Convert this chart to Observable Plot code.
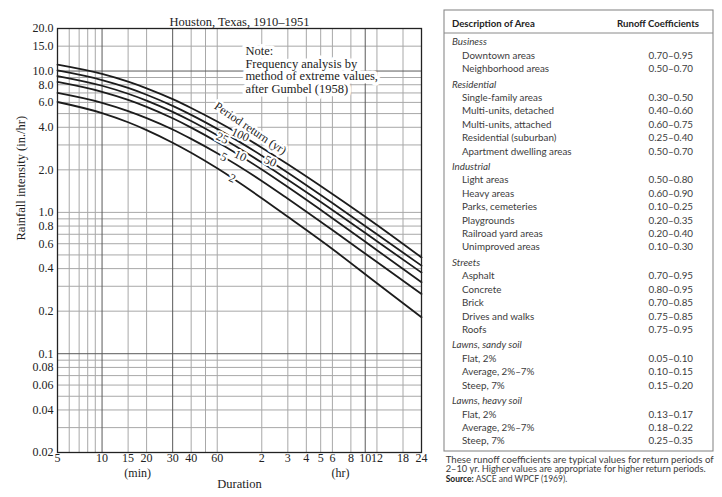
<!DOCTYPE html>
<html><head><meta charset="utf-8">
<script src="https://cdn.jsdelivr.net/npm/d3@7"></script>
<script src="https://cdn.jsdelivr.net/npm/@observablehq/plot@0.6"></script>
<style>
body{margin:0;background:#fff;}
#wrap{position:relative;width:722px;height:497px;overflow:hidden;background:#fff;}
#chart{position:absolute;left:0;top:0;}
#table{position:absolute;left:440px;top:0;}
</style></head><body><div id="wrap"><div id="chart"></div><svg id="table" width="282" height="497"></svg></div>
<script>
// ---- chart data ----
const durations = [5, 10, 15, 20, 30, 40, 60, 120, 180, 360, 720, 1440]; // minutes
const periods = ["2", "5", "10", "25", "50", "100"]; // return period, yr
const int2   = [6.04, 5.04, 4.34, 3.82, 3.11, 2.64, 2.05, 1.26, 0.93, 0.55, 0.315, 0.181];
const int5   = [7.0, 5.96, 5.21, 4.65, 3.86, 3.31, 2.62, 1.67, 1.25, 0.75, 0.445, 0.265];
const int10  = [8.37, 7.13, 6.25, 5.58, 4.63, 3.98, 3.15, 2.01, 1.51, 0.91, 0.54, 0.32];
const int25  = [9.22, 7.87, 6.91, 6.18, 5.14, 4.43, 3.51, 2.25, 1.70, 1.04, 0.625, 0.375];
const int50  = [10.1, 8.64, 7.60, 6.80, 5.67, 4.90, 3.90, 2.52, 1.91, 1.165, 0.70, 0.42];
const int100 = [11.1, 9.54, 8.41, 7.55, 6.33, 5.48, 4.39, 2.87, 2.19, 1.35, 0.815, 0.48];

const xTicks = [5, 10, 15, 20, 30, 40, 60, 120, 180, 240, 300, 360, 480, 600, 720, 1080, 1440];
const xTickLabels = ["5","10","15","20","30","40","60","2","3","4","5","6","8","10","12","18","24"];
const xGridLight = [6, 7, 8, 9, 15, 20, 40, 50, 60, 120, 180, 240, 300, 360, 480, 720, 1080];
const xGridDark = [10, 30, 600];
const yTicks = [20, 15, 10, 8, 6, 4, 2, 1, 0.8, 0.6, 0.4, 0.2, 0.1, 0.08, 0.06, 0.04, 0.02];
const yTickLabels = ["20.0","15.0","10.0","8.0","6.0","4.0","2.0","1.0","0.8","0.6","0.4","0.2","0.1","0.08","0.06","0.04","0.02"];
const yGridLight = [15, 9, 8, 7, 6, 5, 4, 3, 2, 1, 0.9, 0.8, 0.7, 0.6, 0.5, 0.4, 0.3, 0.2, 0.09, 0.08, 0.07, 0.06, 0.05, 0.04, 0.03];
const yGridDark = [10, 0.1];

const curveLabelText = ["100", "25", "5", "10", "50", "2"];
const curveLabelDur  = [86, 65, 66.5, 86, 137, 76];
const curveLabelInt  = [3.54, 3.35, 2.46, 2.51, 2.30, 1.745];

const titleText = "Houston, Texas, 1910–1951";
const noteText = "Note:\nFrequency analysis by\nmethod of extreme values,\nafter Gumbel (1958)";
const periodText = "Period return (yr)";
const yLabel = "Rainfall intensity (in./hr)";
const xLabel = "Duration";

// ---- table data ----
const rowText = ["Business","Downtown areas","Neighborhood areas",
  "Residential","Single-family areas","Multi-units, detached","Multi-units, attached","Residential (suburban)","Apartment dwelling areas",
  "Industrial","Light areas","Heavy areas","Parks, cemeteries","Playgrounds","Railroad yard areas","Unimproved areas",
  "Streets","Asphalt","Concrete","Brick","Drives and walks","Roofs",
  "Lawns, sandy soil","Flat, 2%","Average, 2%–7%","Steep, 7%",
  "Lawns, heavy soil","Flat, 2%","Average, 2%–7%","Steep, 7%"];
const rowValue = ["","0.70–0.95","0.50–0.70",
  "","0.30–0.50","0.40–0.60","0.60–0.75","0.25–0.40","0.50–0.70",
  "","0.50–0.80","0.60–0.90","0.10–0.25","0.20–0.35","0.20–0.40","0.10–0.30",
  "","0.70–0.95","0.80–0.95","0.70–0.85","0.75–0.85","0.75–0.95",
  "","0.05–0.10","0.10–0.15","0.15–0.20",
  "","0.13–0.17","0.18–0.22","0.25–0.35"];
const tableHeader = ["Description of Area", "Runoff Coefficients"];
const footLines = ["These runoff coefficients are typical values for return periods of",
  "2–10 yr. Higher values are appropriate for higher return periods."];
const sourceLabel = "Source:";
const sourceText = " ASCE and WPCF (1969).";

// ---- build chart ----
const series = [int2, int5, int10, int25, int50, int100];
const rows = periods.flatMap((p, k) => durations.map((d, j) => ({period: p, duration: d, intensity: series[k][j]})));
const serif = "'Liberation Serif', 'Times New Roman', serif";

const chart = Plot.plot({
  width: 440,
  height: 497,
  marginLeft: 57,
  marginRight: 19,
  marginTop: 28,
  marginBottom: 45,
  style: {fontFamily: serif, fontSize: "12px", color: "#222", background: "white"},
  x: {type: "log", domain: [5, 1440], axis: null},
  y: {type: "log", domain: [0.02, 20], axis: null},
  marks: [
    Plot.ruleX(xGridLight, {stroke: "#a8a8a8", strokeWidth: 1}),
    Plot.ruleY(yGridLight, {stroke: "#a8a8a8", strokeWidth: 1}),
    Plot.ruleX(xGridDark, {stroke: "#5a5a5a", strokeWidth: 1}),
    Plot.ruleY(yGridDark, {stroke: "#5a5a5a", strokeWidth: 1}),
    Plot.line(rows, {x: "duration", y: "intensity", z: "period", stroke: "#1c1c1c", strokeWidth: 1.8, curve: "monotone-x"}),
    // halos
    Plot.text([noteText], {x: [93], y: [15], textAnchor: "start", lineAnchor: "top", lineHeight: 1.0, fontSize: 12.5, fill: "white", stroke: "white", strokeWidth: 7}),
    Plot.text([periodText], {x: [100.7], y: [3.93], rotate: 34, fontSize: 12, fill: "white", stroke: "white", strokeWidth: 5}),
    Plot.text(curveLabelText, {x: curveLabelDur, y: curveLabelInt, rotate: 25, fontSize: 12, fill: "white", stroke: "white", strokeWidth: 4}),
    // texts
    Plot.text([noteText], {x: [93], y: [15], textAnchor: "start", lineAnchor: "top", lineHeight: 1.0, fontSize: 12.5, fill: "#222"}),
    Plot.text([periodText], {x: [100.7], y: [3.93], rotate: 34, fontSize: 12, fill: "#222"}),
    Plot.text(curveLabelText, {x: curveLabelDur, y: curveLabelInt, rotate: 25, fontSize: 12, fill: "#222"}),
    Plot.frame({stroke: "#222", strokeWidth: 1.3}),
    // tick labels
    Plot.text(xTicks, {x: d => d, text: (d, i) => xTickLabels[i], frameAnchor: "bottom", dy: 9.5, fontSize: 12, fill: "#222"}),
    Plot.text(yTicks, {y: d => d, text: (d, i) => yTickLabels[i], frameAnchor: "left", dx: -4, textAnchor: "end", fontSize: 12, fill: "#222"}),
    Plot.text([titleText], {frameAnchor: "top", dy: -11, fontSize: 12.5, fill: "#222"}),
    Plot.text(["(min)"], {x: [17.4], frameAnchor: "bottom", dy: 24.5, fill: "#222"}),
    Plot.text(["(hr)"], {x: [408], frameAnchor: "bottom", dy: 24.5, fill: "#222"}),
    Plot.text([xLabel], {frameAnchor: "bottom", dy: 35.5, fontSize: 12.5, fill: "#222"}),
    Plot.text([yLabel], {frameAnchor: "left", dx: -37, rotate: -90, fontSize: 12.5, fill: "#222"})
  ]
});
document.getElementById("chart").appendChild(chart);

// ---- build table ----
const sans = "Lato, 'Noto Sans', sans-serif";
const tsvg = d3.select("#table");
const ink = "#3c3c3c";
tsvg.append("rect").attr("x", 4).attr("y", 10).attr("width", 269).attr("height", 441)
  .attr("fill", "white").attr("stroke", "#8a8a8a").attr("stroke-width", 1.1);
tsvg.append("line").attr("x1", 4).attr("x2", 273).attr("y1", 33).attr("y2", 33)
  .attr("stroke", "#8a8a8a").attr("stroke-width", 1);
tsvg.append("text").attr("x", 12).attr("y", 26.5).attr("font-family", sans).attr("font-weight", 700)
  .attr("font-size", 9.6).attr("fill", "#222").text(tableHeader[0]);
tsvg.append("text").attr("x", 259).attr("y", 26.5).attr("text-anchor", "end").attr("font-family", sans).attr("font-weight", 700)
  .attr("font-size", 9.6).attr("fill", "#222").text(tableHeader[1]);

let yPos = 41.7;
rowText.forEach((t, i) => {
  const isGroup = rowValue[i] === "";
  if (i > 0) yPos += (isGroup ? 15.5 : 13.4);
  tsvg.append("text").attr("x", isGroup ? 12 : 22).attr("y", yPos + 3.5)
    .attr("font-family", sans).attr("font-size", 9.8).attr("fill", ink)
    .attr("font-style", isGroup ? "italic" : "normal").text(t);
  if (!isGroup) {
    tsvg.append("text").attr("x", 253).attr("y", yPos + 3.5).attr("text-anchor", "end")
      .attr("font-family", sans).attr("font-size", 9.8).attr("fill", ink).text(rowValue[i]);
  }
});
const footY = [462.8, 472.4];
const footW = [268, 260];
footLines.forEach((t, i) => {
  tsvg.append("text").attr("x", 5.7).attr("y", footY[i]).attr("font-family", sans).attr("font-size", 8.5)
    .attr("fill", ink).attr("textLength", footW[i]).attr("lengthAdjust", "spacingAndGlyphs").text(t);
});
const src = tsvg.append("text").attr("x", 5.7).attr("y", 482.4).attr("font-family", sans).attr("font-size", 8.5).attr("fill", ink);
src.append("tspan").attr("font-weight", 700).attr("fill", "#222").text(sourceLabel);
src.append("tspan").text(sourceText);
</script></body></html>
